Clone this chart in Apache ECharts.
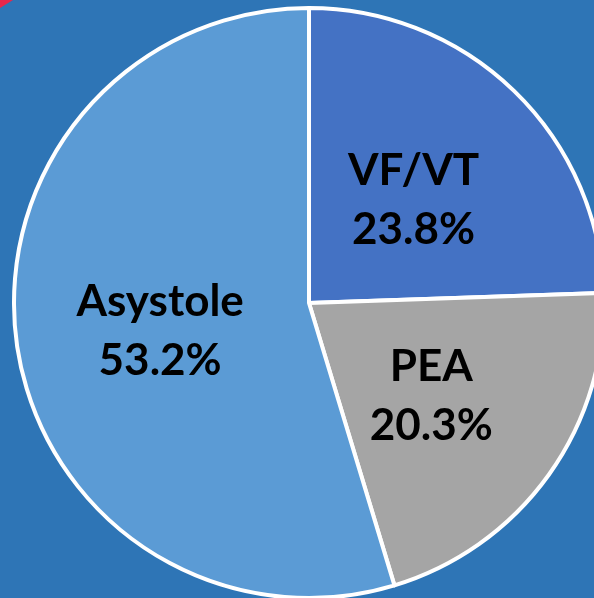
<!DOCTYPE html>
<html>
<head>
<meta charset="utf-8">
<script src="https://cdn.jsdelivr.net/npm/echarts@6/dist/echarts.min.js"></script>
<style>
html,body{margin:0;padding:0;background:#2E75B6;}
#c{width:594px;height:598px;}
</style>
</head>
<body>
<div id="c"></div>
<script>
const categories = ['VF/VT', 'PEA', 'Asystole'];
const values = [23.8, 20.3, 53.2];
const colors = ['#4472C4', '#A5A5A5', '#5B9BD5'];

const chart = echarts.init(document.getElementById('c'), null, {renderer: 'canvas'});
chart.setOption({
  backgroundColor: '#2E75B6',
  animation: false,
  graphic: [{
    type: 'polygon',
    shape: {points: [[0, 0], [13, 0], [0, 8]]},
    style: {fill: '#E8274B'}
  }],
  series: [{
    type: 'pie',
    center: [309, 303],
    radius: [0, 295],
    startAngle: 90,
    clockwise: true,
    data: categories.map((n, i) => ({name: n, value: values[i], itemStyle: {color: colors[i]}})),
    itemStyle: {borderColor: '#FFFFFF', borderWidth: 4},
    label: {
      show: true,
      position: 'inside',
      formatter: '{b}\n{c}%',
      color: '#000000',
      fontFamily: 'Lato',
      fontWeight: 'bold',
      fontSize: 44,
      lineHeight: 59,
      offset: [0, 6]
    },
    labelLine: {show: false},
    emphasis: {disabled: true}
  }]
});
</script>
</body>
</html>
